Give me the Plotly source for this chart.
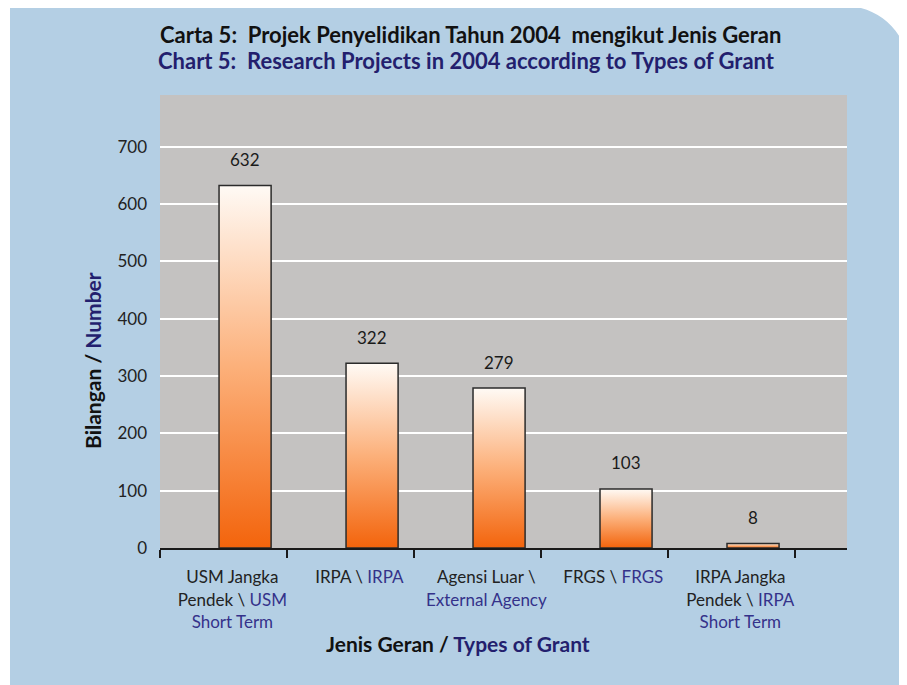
import plotly.graph_objects as go

# data
labels_ms = ["USM Jangka<br>Pendek \\", "IRPA \\", "Agensi Luar \\<br>", "FRGS \\", "IRPA Jangka<br>Pendek \\"]
labels_en = ["USM<br>Short Term", "IRPA", "External Agency", "FRGS", "IRPA<br>Short Term"]
values = [632, 322, 279, 103, 8]
y_ticks = [0, 100, 200, 300, 400, 500, 600, 700]

NAVY = "#231f6e"
NAVY_SOFT = "#34328a"
BLUE_BG = "#b4cfe4"
GREY_BG = "#c4c2c1"
FONT = "Lato"

# page has an 8px body margin; coordinates below are screen pixels
OFF = 8
SCREEN_W, SCREEN_H = 907, 685
W, H = SCREEN_W - OFF, SCREEN_H - OFF
L, R, T, B = 160, 847, 95, 548


def px(x):
    return (x - L) / (R - L)


def py(y):
    return (B - y) / (B - T)


bar_w = 0.41
fig = go.Figure()

for i, v in enumerate(values):
    x0, x1 = i - bar_w / 2, i + bar_w / 2
    fig.add_trace(go.Scatter(
        x=[x0, x0, x1, x1, x0], y=[0, v, v, 0, 0],
        mode="lines", fill="toself",
        fillgradient=dict(type="vertical",
                          colorscale=[[0, "#f3640c"], [0.5, "#fcb07a"], [1, "#fffaf5"]]),
        line=dict(color="#2b2b2b", width=1.5),
        hoverinfo="skip", showlegend=False,
    ))
    fig.add_annotation(x=i, y=v, text=str(v), showarrow=False, yshift=26,
                       font=dict(size=17, color="#1a1a1a", family=FONT))

ticktext = []
for ms, en in zip(labels_ms, labels_en):
    parts = en.split("<br>")
    colored = "<br>".join(f"<span style='color:{NAVY_SOFT}'>{p}</span>" for p in parts)
    sep = "" if ms.endswith("<br>") else " "
    ticktext.append(ms + sep + colored)

# white left strip + rounded top-right corner over the blue paper
k = 0.552 * 64
shapes = [
    dict(type="rect", xref="paper", yref="paper", x0=px(0), x1=px(10), y0=py(700), y1=py(0),
         fillcolor="white", line_width=0, layer="below"),
    dict(type="path", xref="paper", yref="paper",
         path=(f"M {px(845)},{py(6)} C {px(845 + k)},{py(6)} {px(909)},{py(70 - k)} {px(909)},{py(70)} "
               f"L {px(920)},{py(70)} L {px(920)},{py(0)} L {px(845)},{py(0)} Z"),
         fillcolor="white", line_width=0, layer="below"),
]

annotations = [
    dict(text="Carta 5:  Projek Penyelidikan Tahun 2004  mengikut Jenis Geran",
         x=px(470), y=py(35), font=dict(size=22, color="#111111", family=FONT, weight="bold")),
    dict(text="Chart 5:  Research Projects in 2004 according to Types of Grant",
         x=px(466), y=py(60), font=dict(size=22, color=NAVY, family=FONT, weight="bold")),
    dict(text=f"Jenis Geran / <span style='color:{NAVY}'>Types of Grant</span>",
         x=px(458), y=py(643), font=dict(size=21, color="#111111", family=FONT, weight="bold")),
    dict(text=f"Bilangan / <span style='color:{NAVY}'>Number</span>", textangle=-90,
         x=px(92), y=py(361), font=dict(size=21, color="#111111", family=FONT, weight="bold")),
]
for a in annotations:
    a.update(xref="paper", yref="paper", showarrow=False, xanchor="center", yanchor="middle")
    fig.add_annotation(**a)

fig.update_layout(
    width=W, height=H,
    margin=dict(l=L - OFF, r=SCREEN_W - R, t=T - OFF, b=SCREEN_H - B),
    paper_bgcolor=BLUE_BG, plot_bgcolor=GREY_BG,
    shapes=shapes, showlegend=False,
    font=dict(family=FONT, color="#222222"),
)

fig.update_xaxes(
    range=[-0.67, 4.74], tickmode="array",
    tickvals=[i - 0.1 for i in range(len(values))], ticktext=ticktext,
    ticks="", showgrid=False, zeroline=False,
    showline=True, linecolor="#1a1a1a", linewidth=2,
    tickfont=dict(size=17, color="#222222", family=FONT),
    ticklabelstandoff=13,
    minor=dict(ticks="outside", ticklen=8, tickwidth=1.5, tickcolor="#1a1a1a",
               tickmode="linear", tick0=-0.67, dtick=1, showgrid=False),
)
fig.update_yaxes(
    range=[0, 790], tickmode="array", tickvals=y_ticks,
    showgrid=True, gridcolor="white", gridwidth=2, zeroline=False,
    showline=False, ticks="", ticklabelstandoff=12,
    tickfont=dict(size=17, color="#222222", family=FONT),
)

fig.write_html("out.html")
